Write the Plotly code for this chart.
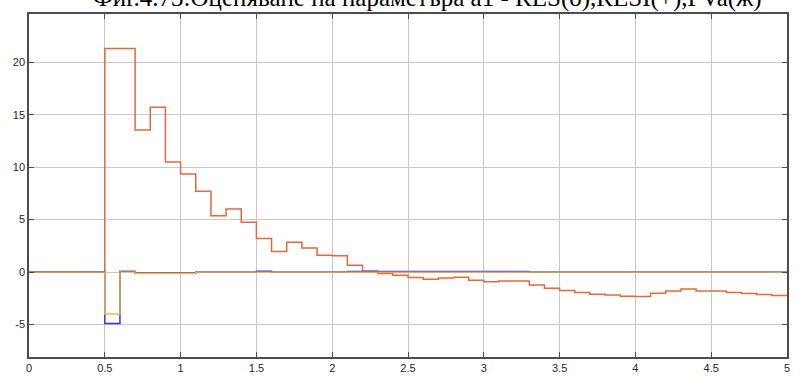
import plotly.graph_objects as go

# time grid (step function sample instants)
t = [round(0.1 * i, 1) for i in range(51)]

# RES (orange): values on each 0.1 interval, starting at t=0
res = [0, 0, 0, 0, 0,
       21.3, 21.3, 13.55, 15.7, 10.5,
       9.35, 7.7, 5.36, 6.0, 4.75,
       3.2, 1.95, 2.85, 2.28, 1.6,
       1.55, 0.65, 0.1, -0.15, -0.3,
       -0.52, -0.68, -0.56, -0.5, -0.78,
       -0.93, -0.85, -0.85, -1.24, -1.55,
       -1.75, -1.95, -2.12, -2.2, -2.3,
       -2.33, -2.02, -1.8, -1.62, -1.8,
       -1.8, -1.96, -2.05, -2.15, -2.24,
       -2.24]

# RESI (blue)
resi = [0, 0, 0, 0, 0,
        -4.9, 0.1, -0.08, -0.08, -0.08,
        -0.08, 0, 0, 0, 0,
        0.07, 0, 0, 0, 0,
        0, 0.05, 0.05, 0.05, 0.05,
        0.05, 0.05, 0.05, 0.05, 0.05,
        0.05, 0.05, 0.05, 0, 0,
        0, 0, 0, 0, 0,
        0, 0, 0, 0, 0,
        0, 0, 0, 0, 0,
        0]

# PVa (yellow)
pva = [0, 0, 0, 0, 0,
       -4.0, 0.13, -0.14, -0.14, -0.14,
       -0.14, 0, 0, 0, 0,
       0, 0, 0, 0, 0,
       0, 0, 0, 0, 0,
       0, 0, 0, 0, 0,
       0, 0, 0, 0, 0,
       0, 0, 0, 0, 0,
       0, 0, 0, 0, 0,
       0, 0, 0, 0, 0,
       0]

x_ticks = [0, 0.5, 1, 1.5, 2, 2.5, 3, 3.5, 4, 4.5, 5]
x_tick_text = ["0", "0.5", "1", "1.5", "2", "2.5", "3", "3.5", "4", "4.5", "5"]
y_ticks = [-5, 0, 5, 10, 15, 20]
y_tick_text = ["-5", "0", "5", "10", "15", "20"]

title_text = "Фиг.4.73:Оценяване на параметъра а1 - RES(о),RESI(+),PVa(ж)"

fig = go.Figure()
fig.add_trace(go.Scatter(x=t, y=res, mode="lines", line=dict(color="#e2683e", width=1.5, shape="hv")))
fig.add_trace(go.Scatter(x=t, y=resi, mode="lines", line=dict(color="#3030ff", width=1.5, shape="hv")))
fig.add_trace(go.Scatter(x=t, y=pva, mode="lines", line=dict(color="#f2b630", width=1.3, shape="hv")))

axis_common = dict(
    showgrid=True, gridcolor="#c8c8c8", gridwidth=1.3,
    showline=True, linecolor="#4d4d4d", linewidth=1.5, mirror="ticks",
    ticks="inside", ticklen=5, tickcolor="#4d4d4d", tickwidth=1,
    zeroline=False,
    tickfont=dict(family="Liberation Sans, Arial, sans-serif", size=11, color="#262626"),
)

fig.update_xaxes(range=[0, 5], tickvals=x_ticks, ticktext=x_tick_text, **axis_common)
fig.update_yaxes(range=[-8.1, 24.6], tickvals=y_ticks, ticktext=y_tick_text, **axis_common)

fig.update_layout(
    width=805, height=386,
    margin=dict(l=29, r=18, t=13, b=23),
    paper_bgcolor="white", plot_bgcolor="white",
    showlegend=False,
    annotations=[dict(
        text=title_text, xref="paper", yref="paper",
        x=0.526, y=1.0, xanchor="center", yanchor="bottom", showarrow=False,
        font=dict(family="Liberation Serif, Times New Roman, serif", size=25, color="black"),
    )],
)

fig.write_html("out.html")
